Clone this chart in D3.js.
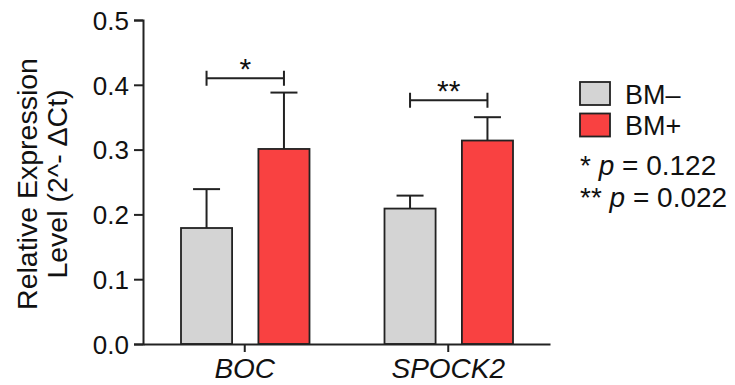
<!DOCTYPE html>
<html>
<head>
<meta charset="utf-8">
<script src="https://cdn.jsdelivr.net/npm/d3@7"></script>
<style>
  body { margin: 0; background: #fff; }
  text { font-family: "Liberation Sans", Arial, sans-serif; fill: #111; }
</style>
</head>
<body>
<div id="chart"></div>
<script>

// data
var genes = ["BOC", "SPOCK2"];
var groups = ["BM\u2013", "BM+"];
var meanNeg = [0.179, 0.209];
var meanPos = [0.301, 0.314];
var sdNeg = [0.060, 0.020];
var sdPos = [0.087, 0.036];
var sigY = [0.41, 0.376];
var sigLabels = ["*", "**"];
var pNotes = [["*", "0.122"], ["**", "0.022"]];
var yTicks = [0, 0.1, 0.2, 0.3, 0.4, 0.5];

var colors = ["#d4d4d4", "#f94141"];

var width = 735, height = 385;
var plotLeft = 143, plotRight = 550, plotTop = 20, plotBottom = 344;

var svg = d3.select("#chart").append("svg")
  .attr("width", width)
  .attr("height", height);

// scales
var x0 = d3.scaleBand().domain(genes).range([plotLeft, plotRight]).padding(0);
var x1 = d3.scaleBand().domain(groups).range([38, 166.5]).paddingInner(0.34).paddingOuter(0);
var y = d3.scaleLinear().domain([0, 0.5]).range([plotBottom, plotTop]);

var rows = genes.map(function(g, i) {
  return [
    {gene: g, group: groups[0], mean: meanNeg[i], sd: sdNeg[i], color: colors[0]},
    {gene: g, group: groups[1], mean: meanPos[i], sd: sdPos[i], color: colors[1]}
  ];
});
var flat = d3.merge(rows);

function barCx(d) { return x0(d.gene) + x1(d.group) + x1.bandwidth() / 2; }

// error bars (drawn first so bars cover the lower part)
var eb = svg.append("g").attr("stroke", "#222").attr("stroke-width", 2);
eb.selectAll(".ev").data(flat).enter().append("line")
  .attr("x1", barCx).attr("x2", barCx)
  .attr("y1", function(d) { return y(d.mean); })
  .attr("y2", function(d) { return y(d.mean + d.sd); });
eb.selectAll(".ec").data(flat).enter().append("line")
  .attr("x1", function(d) { return barCx(d) - 13.5; })
  .attr("x2", function(d) { return barCx(d) + 13.5; })
  .attr("y1", function(d) { return y(d.mean + d.sd); })
  .attr("y2", function(d) { return y(d.mean + d.sd); });

// bars
svg.append("g").selectAll("rect").data(flat).enter().append("rect")
  .attr("x", function(d) { return x0(d.gene) + x1(d.group); })
  .attr("y", function(d) { return y(d.mean); })
  .attr("width", x1.bandwidth())
  .attr("height", function(d) { return y(0) - y(d.mean); })
  .attr("fill", function(d) { return d.color; })
  .attr("stroke", "#222")
  .attr("stroke-width", 1.8);

// y axis
var yAxis = svg.append("g")
  .attr("transform", "translate(" + plotLeft + ",0)")
  .call(d3.axisLeft(y).tickValues(yTicks).tickFormat(d3.format(".1f")).tickSize(9).tickPadding(5));
yAxis.selectAll("text").style("font-size", "26px").attr("dy", "0.36em");

// x axis
var xAxis = svg.append("g")
  .attr("transform", "translate(0," + plotBottom + ")")
  .call(d3.axisBottom(x0).tickSize(8).tickPadding(6).tickSizeOuter(0));
xAxis.selectAll("text").style("font-size", "28px").style("font-style", "italic").attr("dy", "0.71em");

svg.selectAll(".domain, .tick line").attr("stroke", "#222").attr("stroke-width", 2);

// y label
var yl = svg.append("text")
  .attr("transform", "translate(37,184) rotate(-90)")
  .attr("text-anchor", "middle")
  .style("font-size", "28.5px");
yl.append("tspan").attr("x", 0).attr("dy", 0).text("Relative Expression");
yl.append("tspan").attr("x", 0).attr("dy", "1.05em").text("Level (2^- \u0394Ct)");

// significance brackets
var br = svg.append("g");
genes.forEach(function(g, i) {
  var xa = barCx(rows[i][0]), xb = barCx(rows[i][1]), yy = y(sigY[i]);
  br.append("path")
    .attr("d", "M" + xa + "," + (yy - 7.5) + "V" + (yy + 7.5) + "M" + xa + "," + yy + "H" + xb +
      "M" + xb + "," + (yy - 7.5) + "V" + (yy + 7.5))
    .attr("fill", "none").attr("stroke", "#222").attr("stroke-width", 2);
  br.append("text")
    .attr("x", (xa + xb) / 2).attr("y", yy + 1)
    .attr("text-anchor", "middle")
    .style("font-size", "30px")
    .text(sigLabels[i]);
});

// legend
var lg = svg.append("g").attr("transform", "translate(580,82)");
groups.forEach(function(g, i) {
  lg.append("rect")
    .attr("x", 0).attr("y", i * 31.5)
    .attr("width", 30).attr("height", 23)
    .attr("fill", colors[i]).attr("stroke", "#222").attr("stroke-width", 1.8);
  lg.append("text")
    .attr("x", 45).attr("y", i * 31.5 + 21.5)
    .style("font-size", "27px")
    .text(g);
});
pNotes.forEach(function(p, i) {
  var t = lg.append("text")
    .attr("x", 0).attr("y", 93 + i * 32)
    .style("font-size", "28px");
  t.append("tspan").text(p[0] + " ");
  t.append("tspan").style("font-style", "italic").text("p");
  t.append("tspan").text(" = " + p[1]);
});

</script>
</body>
</html>
